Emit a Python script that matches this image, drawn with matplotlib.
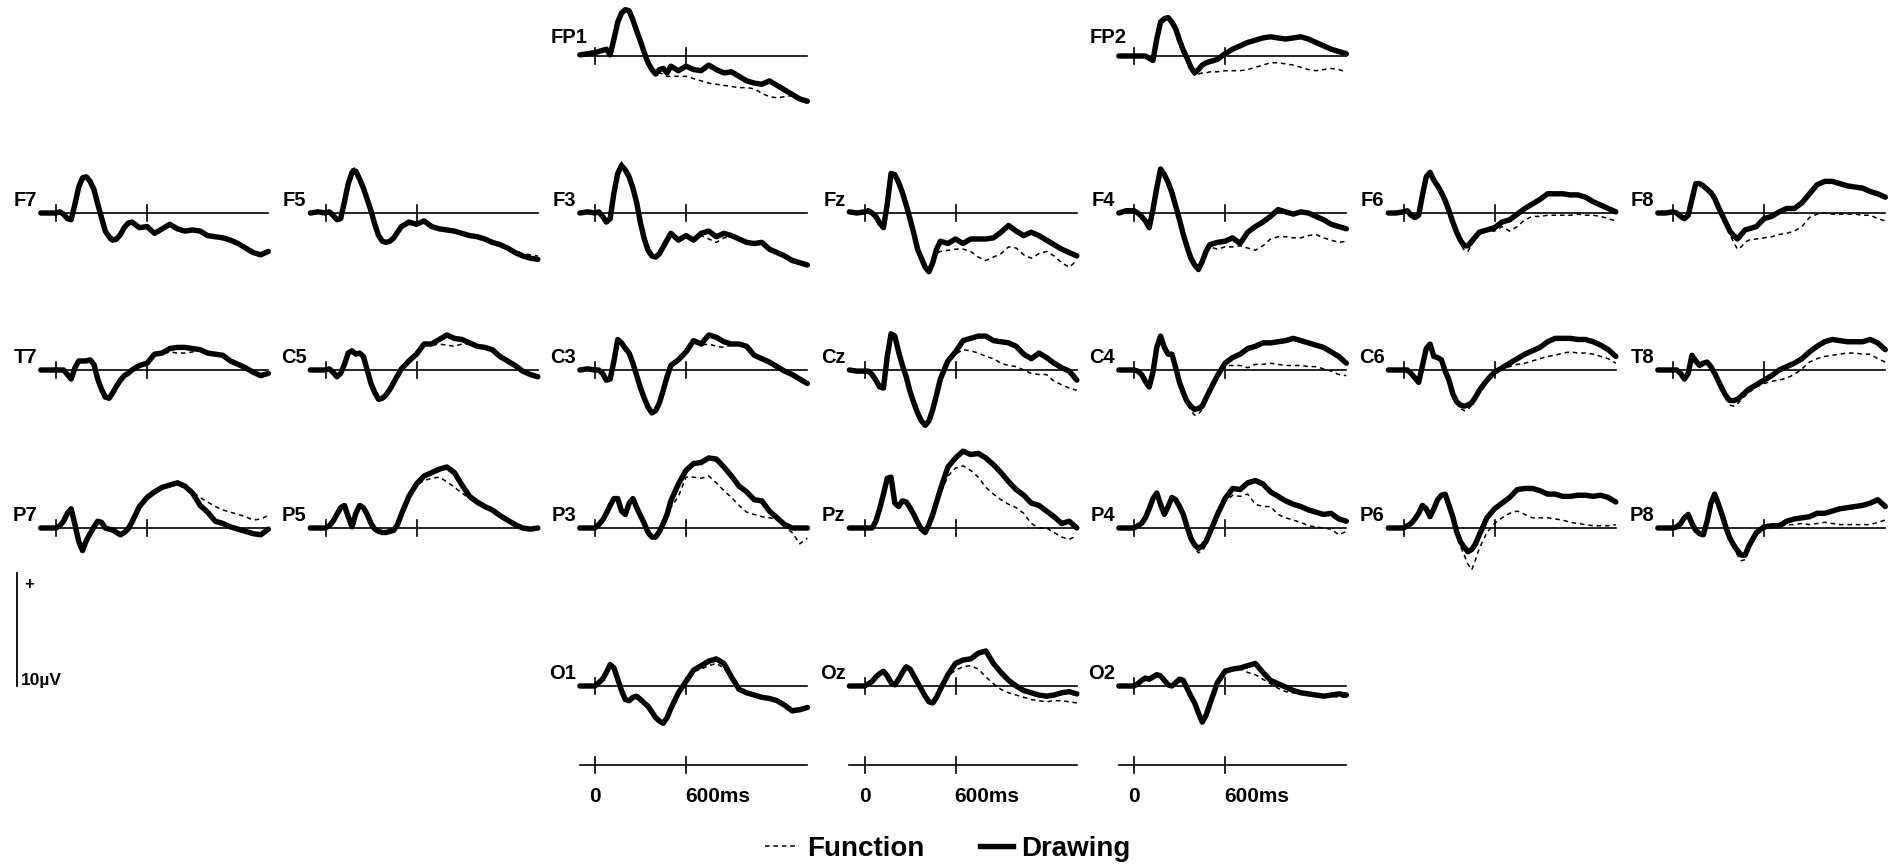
import matplotlib
matplotlib.use("Agg")
import matplotlib.pyplot as plt
from matplotlib.lines import Line2D

plt.rcParams['font.family'] = ['Liberation Sans', 'DejaVu Sans']

# Sample times (ms) shared by every channel
times_ms = [-100, -50, 0,
            25, 50, 75, 100, 125, 150, 175, 200, 225, 250,
            275, 300, 325, 350, 375, 400, 425, 450, 475, 500,
            550, 600, 650, 700, 750, 800, 850, 900, 950, 1000,
            1050, 1100, 1150, 1200, 1250, 1300, 1350, 1400]

# Grand-average amplitudes (microvolts), positive up
fp1_drawing = [0.1, 0.2, 0.3,
               0.4, 0.5, 0.6, 0.1, 1.5, 3.0, 3.8, 4.1, 4.0, 3.2, 2.2, 1.3, 0.3, -0.6, -1.2, -1.6, -1.2, -1.1, -1.5, -0.9,
               -1.3, -0.9, -1.2, -1.3, -0.8, -1.2, -1.5, -1.4, -1.8, -2.2, -2.4, -2.5, -2.2, -2.6, -3.0, -3.4, -3.8, -4.0]
fp1_function = [0.1, 0.2, 0.3,
                0.4, 0.5, 0.6, 0.1, 1.5, 3.0, 3.8, 4.1, 4.0, 3.2, 2.2, 1.3, 0.3, -0.6, -1.3, -1.7, -1.5, -1.6, -1.8, -1.8,
                -1.8, -1.8, -2.0, -2.2, -2.4, -2.5, -2.6, -2.7, -2.8, -2.8, -2.9, -3.3, -3.6, -3.7, -3.6, -3.5, -3.8, -4.2]

fp2_drawing = [0.0, 0.0, 0.0,
               0.0, 0.0, 0.0, -0.2, -0.4, 1.5, 3.0, 3.3, 3.4, 3.0, 2.4, 1.4, 0.5, -0.2, -1.0, -1.5, -1.2, -0.8, -0.6, -0.5,
               -0.3, 0.2, 0.6, 0.9, 1.2, 1.4, 1.6, 1.7, 1.6, 1.5, 1.6, 1.7, 1.5, 1.2, 0.9, 0.6, 0.4, 0.2]
fp2_function = [0.0, 0.0, 0.0,
                0.0, 0.0, 0.0, -0.2, -0.4, 1.5, 3.0, 3.3, 3.4, 3.0, 2.4, 1.4, 0.5, -0.2, -1.0, -1.7, -1.6, -1.5, -1.5, -1.4,
                -1.4, -1.3, -1.3, -1.3, -1.2, -1.0, -0.8, -0.6, -0.6, -0.7, -0.8, -1.0, -1.2, -1.3, -1.2, -1.1, -1.2, -1.4]

f7_drawing = [0.0, 0.0, 0.0,
              0.1, -0.1, -0.5, -0.6, 0.8, 2.3, 3.1, 3.2, 2.8, 2.1, 0.8, -0.4, -1.6, -2.1, -2.4, -2.3, -1.9, -1.3, -0.9, -0.8,
              -1.3, -1.2, -1.8, -1.4, -1.0, -1.4, -1.6, -1.5, -1.6, -2.0, -2.1, -2.2, -2.4, -2.7, -3.1, -3.5, -3.7, -3.4]
f7_function = [0.0, 0.0, 0.0,
               0.1, -0.1, -0.5, -0.6, 0.9, 2.5, 3.3, 3.4, 2.9, 2.1, 0.8, -0.5, -1.8, -2.4, -2.6, -2.5, -2.0, -1.4, -1.0, -0.9,
               -1.3, -1.4, -1.9, -1.5, -1.2, -1.3, -1.7, -1.5, -1.6, -2.0, -2.1, -2.2, -2.4, -2.7, -3.1, -3.5, -3.7, -3.5]

f5_drawing = [0.0, 0.1, 0.0,
              0.1, -0.2, -0.6, -0.5, 1.0, 2.6, 3.6, 3.7, 3.0, 2.2, 1.2, 0.2, -1.0, -2.0, -2.5, -2.6, -2.5, -2.2, -1.7, -1.2,
              -0.8, -1.0, -0.7, -1.2, -1.4, -1.5, -1.6, -1.8, -2.0, -2.1, -2.3, -2.6, -2.8, -3.1, -3.5, -3.8, -4.0, -4.1]
f5_function = [0.0, 0.1, 0.0,
               0.1, -0.2, -0.6, -0.5, 1.1, 2.8, 3.9, 4.0, 3.1, 2.2, 1.2, 0.1, -1.1, -2.1, -2.6, -2.7, -2.5, -2.2, -1.7, -1.3,
               -1.0, -1.1, -0.8, -1.2, -1.3, -1.6, -1.6, -1.9, -2.0, -2.2, -2.4, -2.6, -2.7, -3.0, -3.3, -3.6, -3.7, -3.8]

f3_drawing = [0.0, 0.1, 0.0,
              0.1, -0.3, -0.8, -0.5, 1.8, 3.5, 4.2, 3.8, 3.2, 2.2, 0.9, -0.9, -2.3, -3.3, -3.8, -3.9, -3.6, -3.0, -2.4, -1.8,
              -2.4, -2.0, -2.4, -1.8, -1.6, -2.1, -1.8, -2.0, -2.3, -2.6, -2.7, -2.6, -3.2, -3.5, -3.8, -4.2, -4.4, -4.6]
f3_function = [0.0, 0.1, 0.0,
               0.1, -0.3, -0.8, -0.5, 1.9, 3.7, 4.5, 3.9, 3.2, 2.2, 0.9, -1.0, -2.4, -3.4, -3.9, -4.0, -3.6, -3.0, -2.5, -2.0,
               -2.5, -2.1, -2.4, -2.0, -2.3, -2.6, -2.2, -2.1, -2.3, -2.6, -2.8, -2.7, -3.2, -3.5, -3.8, -4.1, -4.3, -4.5]

fz_drawing = [0.1, 0.0, 0.1,
              0.2, 0.0, -0.3, -0.9, -1.3, 0.8, 3.5, 3.4, 2.7, 1.8, 0.7, -0.5, -1.8, -3.2, -4.0, -4.8, -5.2, -4.4, -3.2, -2.5,
              -2.7, -2.3, -2.7, -2.3, -2.3, -2.3, -2.2, -1.7, -1.1, -1.6, -2.0, -1.7, -2.0, -2.4, -2.8, -3.2, -3.5, -3.8]
fz_function = [0.1, 0.0, 0.1,
               0.2, 0.0, -0.3, -0.9, -1.3, 0.8, 3.5, 3.5, 2.8, 1.8, 0.7, -0.5, -1.8, -3.2, -4.0, -4.8, -5.2, -4.5, -3.6, -3.4,
               -3.3, -3.2, -3.2, -3.4, -3.9, -4.2, -3.9, -3.6, -3.0, -3.1, -3.7, -4.0, -3.6, -3.4, -3.8, -4.4, -4.8, -4.2]

f4_drawing = [0.0, 0.2, 0.2,
              0.0, -0.3, -0.7, -1.3, 0.3, 2.2, 3.9, 3.4, 2.7, 1.8, 0.6, -0.6, -1.9, -3.0, -4.0, -4.6, -5.0, -4.3, -3.4, -2.8,
              -2.6, -2.5, -2.2, -2.7, -1.7, -1.2, -0.8, -0.3, 0.3, 0.1, -0.1, 0.1, 0.0, -0.3, -0.6, -1.0, -1.2, -1.4]
f4_function = [0.0, 0.2, 0.2,
               0.0, -0.3, -0.7, -1.3, 0.3, 2.2, 3.9, 3.4, 2.7, 1.8, 0.6, -0.6, -1.9, -3.0, -4.0, -4.6, -5.0, -4.4, -3.6, -3.0,
               -3.2, -3.0, -3.0, -2.9, -3.1, -3.3, -2.9, -2.3, -2.1, -2.1, -2.2, -2.2, -2.0, -1.9, -2.2, -2.4, -2.6, -2.5]

f6_drawing = [0.0, 0.0, 0.1,
              0.2, -0.2, -0.4, -0.2, 1.6, 3.2, 3.6, 2.9, 2.4, 1.8, 1.1, 0.2, -0.8, -1.7, -2.4, -2.9, -2.9, -2.5, -2.1, -1.7,
              -1.5, -1.3, -0.8, -0.6, -0.1, 0.4, 0.8, 1.2, 1.7, 1.7, 1.7, 1.6, 1.6, 1.4, 1.0, 0.7, 0.4, 0.1]
f6_function = [0.0, 0.0, 0.1,
               0.2, -0.2, -0.4, -0.2, 1.6, 3.2, 3.6, 2.9, 2.4, 1.8, 1.1, 0.2, -0.9, -1.9, -2.7, -3.3, -3.4, -2.8, -2.3, -1.9,
               -1.6, -1.6, -1.2, -1.6, -1.2, -0.6, -0.3, -0.3, -0.2, -0.2, -0.2, -0.2, -0.1, -0.2, -0.2, -0.3, -0.5, -0.7]

f8_drawing = [0.0, 0.0, 0.1,
              0.0, -0.3, -0.5, -0.2, 1.2, 2.6, 2.6, 2.4, 2.1, 1.8, 1.3, 0.5, -0.2, -0.9, -1.6, -2.0, -2.3, -1.9, -1.5, -1.4,
              -1.2, -0.5, -0.3, 0.1, 0.4, 0.4, 0.9, 1.7, 2.5, 2.8, 2.8, 2.6, 2.4, 2.3, 2.2, 1.9, 1.7, 1.4]
f8_function = [0.0, 0.0, 0.1,
               0.0, -0.3, -0.5, -0.2, 1.2, 2.6, 2.7, 2.5, 2.1, 1.8, 1.3, 0.5, -0.3, -1.1, -1.9, -2.6, -3.2, -3.0, -2.6, -2.4,
               -2.3, -2.2, -2.1, -1.9, -1.8, -1.6, -1.2, -0.4, -0.1, 0.0, -0.1, -0.1, -0.1, -0.1, -0.2, -0.2, -0.5, -0.7]

t7_drawing = [0.0, 0.0, 0.0,
              0.0, 0.0, -0.4, -0.8, 0.2, 0.8, 0.8, 0.8, 0.9, 0.5, -0.8, -1.7, -2.4, -2.5, -2.0, -1.4, -0.9, -0.5, -0.3, 0.0,
              0.4, 0.6, 1.4, 1.5, 1.9, 2.0, 2.0, 1.9, 1.8, 1.5, 1.4, 1.3, 0.8, 0.5, 0.2, -0.2, -0.5, -0.3]
t7_function = [0.0, 0.0, 0.0,
               0.0, 0.0, -0.4, -0.8, 0.2, 0.8, 0.8, 0.8, 0.9, 0.5, -0.8, -1.7, -2.4, -2.5, -2.0, -1.4, -0.9, -0.5, -0.3, 0.0,
               0.4, 0.6, 1.3, 1.4, 1.6, 1.5, 1.5, 1.6, 1.7, 1.5, 1.4, 1.3, 0.8, 0.5, 0.2, -0.2, -0.5, -0.4]

c5_drawing = [0.0, 0.0, 0.0,
              0.1, -0.2, -0.6, -0.3, 0.5, 1.5, 1.7, 1.4, 1.5, 1.2, 0.0, -1.2, -2.0, -2.6, -2.5, -2.2, -1.7, -1.1, -0.5, 0.1,
              0.8, 1.4, 2.3, 2.3, 2.7, 3.1, 2.8, 2.7, 2.4, 2.1, 2.0, 1.8, 1.2, 0.8, 0.4, -0.1, -0.4, -0.6]
c5_function = [0.0, 0.0, 0.0,
               0.1, -0.2, -0.6, -0.3, 0.5, 1.5, 1.7, 1.4, 1.5, 1.2, 0.0, -1.2, -2.0, -2.6, -2.5, -2.2, -1.7, -1.1, -0.5, 0.1,
               0.8, 1.4, 2.2, 2.2, 2.3, 2.2, 2.1, 2.3, 2.3, 2.0, 1.9, 1.7, 1.2, 0.8, 0.4, -0.1, -0.4, -0.6]

c3_drawing = [0.0, 0.1, 0.0,
              0.0, -0.3, -0.9, -0.8, 0.8, 2.7, 2.4, 1.9, 1.5, 0.6, -0.5, -1.6, -2.5, -3.3, -3.8, -3.6, -2.9, -1.8, -0.6, 0.4,
              0.9, 1.6, 2.6, 2.3, 3.1, 2.9, 2.5, 2.3, 2.3, 2.1, 1.3, 1.0, 0.7, 0.3, -0.1, -0.4, -0.8, -1.2]
c3_function = [0.0, 0.1, 0.0,
               0.0, -0.3, -0.9, -0.8, 0.8, 2.7, 2.4, 1.9, 1.5, 0.6, -0.5, -1.6, -2.5, -3.3, -3.8, -3.6, -2.9, -1.8, -0.6, 0.4,
               0.9, 1.6, 2.4, 2.2, 2.3, 2.1, 2.0, 2.2, 2.2, 2.0, 1.3, 1.0, 0.6, 0.2, -0.2, -0.5, -0.8, -1.0]

cz_drawing = [0.0, -0.1, -0.1,
              -0.1, -0.4, -0.9, -1.5, -1.6, 1.2, 3.2, 3.0, 1.6, 0.4, -0.6, -1.9, -2.9, -3.8, -4.5, -4.9, -4.5, -3.5, -2.2, -0.8,
              0.8, 1.6, 2.6, 2.8, 3.0, 3.0, 2.6, 2.5, 2.4, 2.1, 1.4, 1.0, 1.5, 1.1, 0.6, 0.2, -0.1, -0.9]
cz_function = [0.0, -0.1, -0.1,
               -0.1, -0.4, -0.9, -1.5, -1.6, 1.2, 3.2, 3.0, 1.6, 0.4, -0.6, -1.9, -2.9, -3.8, -4.5, -4.9, -4.5, -3.5, -2.2, -0.8,
               0.8, 1.4, 1.8, 1.7, 1.5, 1.2, 1.0, 0.6, 0.4, 0.3, 0.0, -0.3, -0.4, -0.4, -1.0, -1.3, -1.6, -1.8]

c4_drawing = [0.0, 0.0, 0.0,
              -0.1, -0.4, -1.0, -1.5, -0.2, 2.0, 3.0, 2.0, 1.4, 1.4, 0.2, -1.1, -2.0, -2.8, -3.2, -3.5, -3.4, -3.2, -2.5, -1.8,
              -0.5, 0.6, 1.1, 1.4, 1.9, 2.1, 2.4, 2.4, 2.5, 2.6, 2.8, 2.6, 2.4, 2.2, 2.0, 1.6, 1.2, 0.6]
c4_function = [0.0, 0.0, 0.0,
               -0.1, -0.4, -1.0, -1.5, -0.2, 2.0, 3.0, 2.0, 1.4, 1.4, 0.2, -1.1, -2.1, -3.0, -3.6, -4.0, -3.9, -3.5, -2.7, -2.0,
               -0.7, 0.4, 0.4, 0.4, 0.2, 0.5, 0.5, 0.6, 0.5, 0.4, 0.4, 0.4, 0.3, 0.3, 0.1, -0.1, -0.4, -0.5]

c6_drawing = [0.0, 0.0, 0.0,
              0.0, -0.3, -0.7, -1.1, 0.4, 1.9, 2.3, 1.2, 1.1, 0.9, -0.1, -0.9, -2.1, -2.8, -3.1, -3.2, -3.1, -2.9, -2.4, -1.8,
              -0.9, -0.2, 0.2, 0.6, 1.0, 1.4, 1.7, 2.0, 2.5, 2.8, 2.8, 2.8, 2.7, 2.7, 2.5, 2.2, 1.8, 1.2]
c6_function = [0.0, 0.0, 0.0,
               0.0, -0.3, -0.7, -1.1, 0.4, 1.9, 2.3, 1.2, 1.1, 0.9, -0.1, -1.0, -2.3, -3.0, -3.4, -3.6, -3.5, -3.1, -2.6, -2.0,
               -1.0, -0.3, 0.1, 0.3, 0.5, 0.6, 0.8, 1.0, 1.2, 1.3, 1.5, 1.6, 1.5, 1.5, 1.4, 1.2, 1.0, 0.6]

t8_drawing = [0.0, 0.0, 0.0,
              0.0, -0.3, -0.8, -0.3, 1.3, 0.8, 0.4, 0.6, 0.7, 0.3, -0.3, -1.0, -1.7, -2.3, -2.7, -2.7, -2.6, -2.3, -2.0, -1.7,
              -1.3, -0.9, -0.5, 0.0, 0.3, 0.6, 1.0, 1.6, 2.1, 2.5, 2.7, 2.6, 2.5, 2.5, 2.5, 2.7, 2.4, 1.8]
t8_function = [0.0, 0.0, 0.0,
               0.0, -0.3, -0.8, -0.3, 1.3, 0.8, 0.4, 0.6, 0.7, 0.3, -0.3, -1.1, -1.9, -2.6, -3.1, -3.2, -3.0, -2.6, -2.3, -2.0,
               -1.5, -1.2, -1.0, -0.9, -0.7, -0.4, 0.1, 0.7, 1.0, 1.2, 1.3, 1.4, 1.5, 1.5, 1.4, 1.4, 1.0, 0.7]

p7_drawing = [0.0, 0.0, 0.0,
              0.2, 0.6, 1.3, 1.7, 0.3, -1.2, -2.0, -1.1, -0.5, 0.1, 0.6, 0.5, 0.0, -0.1, -0.2, -0.4, -0.6, -0.4, -0.1, 0.5,
              1.9, 2.7, 3.2, 3.6, 3.8, 4.0, 3.7, 3.1, 2.0, 1.4, 0.6, 0.4, 0.1, -0.1, -0.3, -0.5, -0.6, -0.1]
p7_function = [0.0, 0.0, 0.0,
               0.2, 0.6, 1.3, 1.7, 0.3, -1.2, -2.0, -1.1, -0.5, 0.1, 0.6, 0.5, 0.0, -0.1, -0.2, -0.4, -0.6, -0.4, -0.1, 0.5,
               1.9, 2.7, 3.2, 3.6, 3.8, 3.9, 3.5, 3.2, 2.7, 2.3, 1.9, 1.6, 1.4, 1.2, 1.0, 0.7, 0.8, 1.1]

p5_drawing = [0.0, 0.0, 0.0,
              0.2, 0.6, 1.2, 1.8, 2.0, 1.0, 0.1, 1.3, 2.0, 1.8, 1.2, 0.4, -0.1, -0.3, -0.4, -0.4, -0.3, -0.2, 0.3, 1.2,
              2.8, 3.9, 4.6, 4.9, 5.2, 5.4, 4.9, 3.8, 2.8, 2.3, 1.9, 1.6, 1.1, 0.7, 0.3, 0.0, -0.1, 0.0]
p5_function = [0.0, 0.0, 0.0,
               0.2, 0.6, 1.2, 1.8, 2.0, 1.0, 0.1, 1.3, 2.0, 1.8, 1.2, 0.4, -0.1, -0.3, -0.4, -0.4, -0.3, -0.2, 0.3, 1.2,
               2.8, 3.8, 4.2, 4.4, 4.5, 4.1, 3.6, 3.1, 2.6, 2.1, 1.8, 1.5, 1.1, 0.7, 0.3, 0.0, -0.1, 0.0]

p3_drawing = [0.0, 0.0, 0.0,
              0.3, 0.7, 1.3, 2.0, 2.6, 2.6, 1.5, 1.2, 2.2, 2.6, 1.8, 1.1, 0.4, -0.4, -0.8, -0.8, -0.3, 0.4, 1.2, 2.4,
              3.9, 5.1, 5.7, 5.8, 6.2, 6.1, 5.4, 4.6, 3.7, 3.2, 2.5, 2.4, 1.5, 0.9, 0.3, 0.0, 0.0, 0.0]
p3_function = [0.0, 0.0, 0.0,
               0.3, 0.7, 1.3, 2.0, 2.6, 2.6, 1.5, 1.2, 2.2, 2.6, 1.8, 1.1, 0.4, -0.4, -0.8, -0.8, -0.3, 0.4, 1.2, 1.8,
               2.8, 4.5, 4.5, 4.4, 4.6, 4.0, 3.3, 2.7, 2.0, 1.4, 1.2, 1.0, 0.9, 0.8, 0.1, -0.4, -1.4, -0.9]

pz_drawing = [0.0, 0.0, 0.0,
              0.0, 0.0, 0.6, 1.7, 3.0, 4.4, 4.5, 2.2, 1.9, 2.4, 2.3, 1.8, 1.2, 0.5, -0.1, -0.4, 0.3, 1.2, 2.3, 3.4,
              5.4, 6.2, 6.8, 6.5, 6.6, 6.2, 5.6, 4.9, 4.1, 3.4, 2.9, 2.2, 2.0, 1.5, 1.0, 0.4, 0.6, 0.0]
pz_function = [0.0, 0.0, 0.0,
               0.0, 0.0, 0.6, 1.7, 3.0, 4.4, 4.5, 2.2, 1.9, 2.4, 2.3, 1.8, 1.2, 0.5, -0.1, -0.4, 0.3, 1.2, 2.1, 3.0,
               4.6, 5.3, 5.5, 5.1, 4.5, 3.6, 3.0, 2.5, 2.1, 1.8, 1.3, 0.4, 0.0, 0.0, -0.4, -0.8, -1.0, -0.7]

p4_drawing = [0.0, 0.0, 0.0,
              0.2, 0.4, 0.9, 1.7, 2.6, 3.1, 2.1, 1.2, 1.9, 2.7, 2.5, 1.9, 1.2, 0.1, -0.9, -1.5, -1.8, -1.6, -1.2, -0.4,
              1.2, 2.6, 3.5, 3.4, 4.0, 4.2, 3.9, 3.2, 2.8, 2.4, 2.1, 1.9, 1.6, 1.4, 1.2, 1.3, 0.8, 0.6]
p4_function = [0.0, 0.0, 0.0,
               0.2, 0.4, 0.9, 1.7, 2.6, 3.1, 2.1, 1.2, 1.9, 2.7, 2.5, 1.9, 1.2, 0.0, -1.1, -1.8, -2.2, -2.0, -1.5, -0.6,
               1.0, 2.3, 2.9, 2.8, 3.0, 2.1, 1.9, 1.9, 1.2, 0.9, 0.7, 0.5, 0.2, 0.1, 0.0, -0.1, -0.6, -0.3]

p6_drawing = [0.0, 0.0, 0.0,
              0.2, 0.4, 0.8, 1.3, 2.0, 1.7, 1.0, 1.7, 2.5, 2.9, 3.0, 2.0, 1.0, -0.3, -1.2, -1.7, -2.1, -1.9, -1.4, -0.6,
              0.9, 1.7, 2.2, 2.7, 3.4, 3.5, 3.5, 3.3, 3.0, 3.0, 2.8, 2.8, 2.9, 2.9, 2.8, 2.9, 2.7, 2.3]
p6_function = [0.0, 0.0, 0.0,
               0.2, 0.4, 0.8, 1.2, 1.7, 1.5, 1.0, 1.5, 2.3, 2.8, 2.8, 1.8, 0.6, -0.6, -1.6, -2.4, -3.2, -3.7, -2.8, -1.8,
               -0.4, 0.4, 0.9, 1.3, 1.5, 1.2, 0.9, 0.9, 0.9, 0.8, 0.7, 0.5, 0.4, 0.3, 0.2, 0.2, 0.2, 0.3]

p8_drawing = [0.0, 0.0, 0.0,
              0.1, 0.4, 0.9, 1.2, 0.4, -0.2, -0.5, -0.6, 0.6, 2.2, 3.0, 2.1, 1.1, 0.0, -0.9, -1.5, -2.0, -2.4, -2.4, -1.6,
              -0.4, 0.1, 0.2, 0.2, 0.6, 0.8, 0.9, 1.0, 1.3, 1.3, 1.5, 1.7, 1.8, 1.9, 2.0, 2.2, 2.5, 1.9]
p8_function = [0.0, 0.0, 0.0,
               0.1, 0.4, 0.9, 1.2, 0.4, -0.2, -0.5, -0.6, 0.6, 2.2, 3.0, 2.1, 1.0, -0.2, -1.1, -1.8, -2.4, -2.9, -2.8, -1.9,
               -0.6, -0.1, 0.1, 0.1, 0.3, 0.3, 0.4, 0.3, 0.4, 0.5, 0.4, 0.3, 0.3, 0.3, 0.3, 0.3, 0.5, 0.7]

o1_drawing = [0.0, 0.0, 0.0,
              0.3, 0.6, 1.2, 1.9, 1.6, 0.6, -0.4, -1.2, -1.3, -1.0, -0.9, -1.2, -1.5, -1.8, -2.3, -2.8, -3.1, -3.3, -2.8, -2.0,
              -0.6, 0.4, 1.4, 1.8, 2.2, 2.4, 2.0, 0.8, -0.3, -0.6, -0.8, -1.0, -1.1, -1.3, -1.7, -2.2, -2.1, -1.9]
o1_function = [0.0, 0.0, 0.0,
               0.3, 0.6, 1.2, 1.9, 1.6, 0.6, -0.4, -1.2, -1.3, -1.0, -0.9, -1.2, -1.5, -1.8, -2.3, -2.8, -3.1, -3.3, -2.8, -2.0,
               -0.6, 0.4, 1.3, 1.5, 1.8, 2.0, 1.6, 0.6, -0.3, -0.6, -0.8, -1.0, -1.1, -1.3, -1.7, -2.0, -2.0, -1.8]

oz_drawing = [0.0, 0.0, 0.0,
              0.2, 0.4, 0.8, 1.1, 1.3, 0.9, 0.3, 0.1, 0.6, 1.2, 1.7, 1.5, 0.9, 0.3, -0.3, -0.9, -1.4, -1.5, -1.0, -0.3,
              1.0, 2.0, 2.3, 2.4, 2.9, 3.1, 2.0, 1.2, 0.5, 0.0, -0.4, -0.6, -0.8, -0.9, -0.8, -0.6, -0.5, -0.7]
oz_function = [0.0, 0.0, 0.0,
               0.2, 0.4, 0.8, 1.1, 1.3, 0.9, 0.3, 0.1, 0.6, 1.2, 1.7, 1.5, 0.9, 0.3, -0.3, -0.9, -1.4, -1.5, -1.0, -0.3,
               0.9, 1.4, 1.7, 1.8, 1.5, 0.8, 0.2, -0.3, -0.6, -0.8, -1.0, -1.2, -1.3, -1.4, -1.3, -1.3, -1.4, -1.5]

o2_drawing = [0.0, 0.0, 0.0,
              0.2, 0.5, 0.7, 0.6, 0.8, 1.0, 0.9, 0.5, 0.1, 0.0, 0.3, 0.6, 0.5, -0.2, -0.9, -1.5, -2.4, -3.2, -2.6, -1.6,
              0.3, 1.3, 1.5, 1.6, 1.8, 2.0, 1.2, 0.5, 0.2, -0.1, -0.4, -0.6, -0.7, -0.8, -0.9, -0.8, -0.7, -0.8]
o2_function = [0.0, 0.0, 0.0,
               0.2, 0.5, 0.7, 0.6, 0.8, 1.0, 0.9, 0.5, 0.1, 0.0, 0.3, 0.6, 0.5, -0.2, -0.9, -1.5, -2.4, -3.2, -2.6, -1.6,
               0.3, 1.5, 1.6, 1.5, 1.2, 1.0, 0.6, 0.2, -0.2, -0.5, -0.6, -0.7, -0.8, -0.9, -1.0, -0.9, -1.0, -1.0]

# (label, grid row, grid column, function series, drawing series)
channels = [
    ("FP1", 0, 2, fp1_function, fp1_drawing),
    ("FP2", 0, 4, fp2_function, fp2_drawing),
    ("F7", 1, 0, f7_function, f7_drawing),
    ("F5", 1, 1, f5_function, f5_drawing),
    ("F3", 1, 2, f3_function, f3_drawing),
    ("Fz", 1, 3, fz_function, fz_drawing),
    ("F4", 1, 4, f4_function, f4_drawing),
    ("F6", 1, 5, f6_function, f6_drawing),
    ("F8", 1, 6, f8_function, f8_drawing),
    ("T7", 2, 0, t7_function, t7_drawing),
    ("C5", 2, 1, c5_function, c5_drawing),
    ("C3", 2, 2, c3_function, c3_drawing),
    ("Cz", 2, 3, cz_function, cz_drawing),
    ("C4", 2, 4, c4_function, c4_drawing),
    ("C6", 2, 5, c6_function, c6_drawing),
    ("T8", 2, 6, t8_function, t8_drawing),
    ("P7", 3, 0, p7_function, p7_drawing),
    ("P5", 3, 1, p5_function, p5_drawing),
    ("P3", 3, 2, p3_function, p3_drawing),
    ("Pz", 3, 3, pz_function, pz_drawing),
    ("P4", 3, 4, p4_function, p4_drawing),
    ("P6", 3, 5, p6_function, p6_drawing),
    ("P8", 3, 6, p8_function, p8_drawing),
    ("O1", 4, 2, o1_function, o1_drawing),
    ("Oz", 4, 3, oz_function, oz_drawing),
    ("O2", 4, 4, o2_function, o2_drawing),
]

legend_labels = ["Function", "Drawing"]
time_tick_labels = ["0", "600ms"]
scale_label = "10\u00b5V"

# ---- layout (pixels on a 1896 x 864 canvas) ----
FIG_W, FIG_H = 1896, 864
MS_PX = 91.0 / 600.0          # horizontal pixels per millisecond
UV_PX = 11.3                  # vertical pixels per microvolt
COL_ZERO = [56 + 269.5 * k for k in range(7)]
ROW_BASE = [56, 213, 370, 528, 686]
TIME_AXIS_Y = 765
X_LO, X_HI = -110, 1420
Y_LO, Y_HI = -8, 8

fig = plt.figure(figsize=(FIG_W / 100, FIG_H / 100), dpi=100)
fig.patch.set_facecolor("white")

DASH = (0, (3, 2.5))
THIN = 1.2
THICK = 3.9


def panel_axes(col, base_px):
    left = COL_ZERO[col] + X_LO * MS_PX
    width = (X_HI - X_LO) * MS_PX
    top = base_px - Y_HI * UV_PX
    height = (Y_HI - Y_LO) * UV_PX
    ax = fig.add_axes([left / FIG_W, 1 - (top + height) / FIG_H, width / FIG_W, height / FIG_H])
    ax.set_xlim(X_LO, X_HI)
    ax.set_ylim(Y_LO, Y_HI)
    ax.set_axis_off()
    ax.patch.set_alpha(0)
    return ax


def baseline(ax):
    ax.plot([-100, 1400], [0, 0], color="black", lw=THIN, clip_on=False)
    for t in (0, 600):
        ax.plot([t, t], [-0.75, 0.75], color="black", lw=THIN, clip_on=False)


for name, row, col, func, draw in channels:
    ax = panel_axes(col, ROW_BASE[row])
    baseline(ax)
    ax.plot(times_ms, func, color="black", lw=1.1, linestyle=DASH, clip_on=False)
    ax.plot(times_ms, draw, color="black", lw=THICK, solid_joinstyle="round",
            solid_capstyle="round", clip_on=False)
    if row == 0:
        ax.text(-7 / MS_PX, 0.8, name, ha="right", va="bottom", fontsize=14.5, fontweight="bold")
    else:
        ax.text(-19 / MS_PX, 0.3, name, ha="right", va="bottom", fontsize=14.5, fontweight="bold")

# time axes beneath the occipital row
for col in (2, 3, 4):
    ax = panel_axes(col, TIME_AXIS_Y)
    baseline(ax)
    ax.text(0, -2.8, time_tick_labels[0], ha="center", va="center", fontsize=15, fontweight="bold")
    ax.text(595, -2.8, time_tick_labels[1], ha="left", va="center", fontsize=15, fontweight="bold")

# amplitude scale bar, drawn on the occipital row's scale
ax = panel_axes(0, ROW_BASE[4])
bar_x = (17 - COL_ZERO[0]) / MS_PX
ax.plot([bar_x, bar_x], [0, 10], color="black", lw=1.3, clip_on=False)
ax.text((29 - COL_ZERO[0]) / MS_PX, 9.0, "+", ha="center", va="center", fontsize=12, fontweight="bold")
ax.text((21 - COL_ZERO[0]) / MS_PX, 0.1, scale_label, ha="left", va="baseline", fontsize=12.5,
        fontweight="bold")

handles = [Line2D([], [], color="black", lw=1.1, linestyle=DASH),
           Line2D([], [], color="black", lw=THICK)]
fig.legend(handles, legend_labels, loc="center", bbox_to_anchor=(948 / FIG_W, 1 - 849 / FIG_H),
           ncol=2, frameon=False, prop={"size": 20, "weight": "bold"},
           handlelength=1.2, handletextpad=0.3, columnspacing=2.0)

fig.savefig("out.png", dpi=100, facecolor="white")
